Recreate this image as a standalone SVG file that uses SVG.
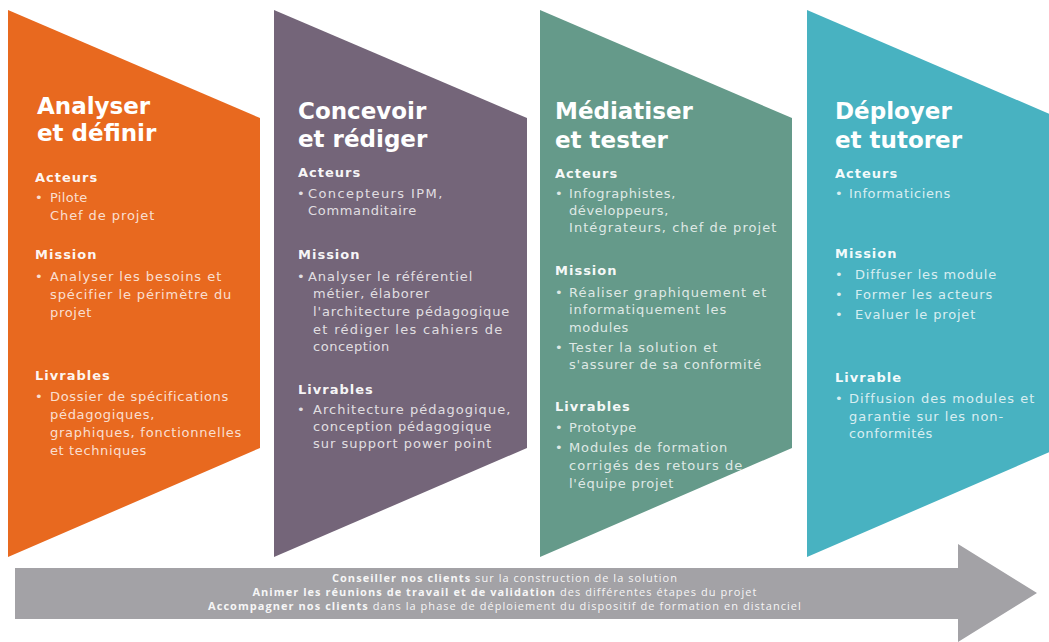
<svg xmlns="http://www.w3.org/2000/svg" width="1049" height="642" viewBox="0 0 1049 642">
<style>
.t{font-family:"DejaVu Sans",Verdana,sans-serif;font-weight:bold;font-size:23px;fill:#fff}
.h{font-family:"DejaVu Sans",Verdana,sans-serif;font-weight:bold;font-size:13px;letter-spacing:1px;fill:#fff;fill-opacity:.95}
.b{font-family:"DejaVu Sans",Verdana,sans-serif;font-size:13px;letter-spacing:.7px;fill:#fff;fill-opacity:.8}
.a{font-family:"Open Sans","Liberation Sans",sans-serif;font-size:11px;letter-spacing:1.05px;fill:#fff;fill-opacity:.92;text-anchor:middle}
.a tspan.k{font-weight:bold}
</style>
<rect width="1049" height="642" fill="#fff"/>

<g id="step1">
<polygon points="8,10 260,118 260,448 8,557" fill="#E8691F"/>
<text class="t" x="37" y="114">Analyser</text>
<text class="t" x="37" y="141">et définir</text>
<text class="h" x="35" y="182">Acteurs</text>
<text class="b" x="35" y="202">•</text>
<text class="b" x="50" y="202" textLength="38" lengthAdjust="spacing">Pilote</text>
<text class="b" x="50" y="220" textLength="105" lengthAdjust="spacing">Chef de projet</text>
<text class="h" x="35" y="259">Mission</text>
<text class="b" x="35" y="281">•</text>
<text class="b" x="50" y="281" textLength="172" lengthAdjust="spacing">Analyser les besoins et</text>
<text class="b" x="50" y="299" textLength="182" lengthAdjust="spacing">spécifier le périmètre du</text>
<text class="b" x="50" y="317">projet</text>
<text class="h" x="35" y="380">Livrables</text>
<text class="b" x="35" y="401">•</text>
<text class="b" x="50" y="401" textLength="179" lengthAdjust="spacing">Dossier de spécifications</text>
<text class="b" x="50" y="419" textLength="105" lengthAdjust="spacing">pédagogiques,</text>
<text class="b" x="50" y="437" textLength="192" lengthAdjust="spacing">graphiques, fonctionnelles</text>
<text class="b" x="50" y="455" textLength="97" lengthAdjust="spacing">et techniques</text>
</g>

<g id="step2">
<polygon points="274,10 527,118 527,448 274,557" fill="#746579"/>
<text class="t" x="298" y="119">Concevoir</text>
<text class="t" x="298" y="147">et rédiger</text>
<text class="h" x="298" y="177">Acteurs</text>
<text class="b" x="297" y="198">•</text>
<text class="b" x="308" y="198" textLength="135" lengthAdjust="spacing">Concepteurs IPM,</text>
<text class="b" x="308" y="215" textLength="109" lengthAdjust="spacing">Commanditaire</text>
<text class="h" x="298" y="259">Mission</text>
<text class="b" x="297" y="281">•</text>
<text class="b" x="308" y="281" textLength="165" lengthAdjust="spacing">Analyser le référentiel</text>
<text class="b" x="313" y="298" textLength="117" lengthAdjust="spacing">métier, élaborer</text>
<text class="b" x="313" y="316" textLength="197" lengthAdjust="spacing">l'architecture pédagogique</text>
<text class="b" x="313" y="334" textLength="190" lengthAdjust="spacing">et rédiger les cahiers de</text>
<text class="b" x="313" y="351" textLength="77" lengthAdjust="spacing">conception</text>
<text class="h" x="298" y="394">Livrables</text>
<text class="b" x="297" y="414">•</text>
<text class="b" x="313" y="414" textLength="198" lengthAdjust="spacing">Architecture pédagogique,</text>
<text class="b" x="313" y="431" textLength="179" lengthAdjust="spacing">conception pédagogique</text>
<text class="b" x="313" y="448" textLength="179" lengthAdjust="spacing">sur support power point</text>
</g>

<g id="step3">
<polygon points="540,10 792,118 792,448 540,557" fill="#659A8A"/>
<text class="t" x="555" y="119">Médiatiser</text>
<text class="t" x="555" y="148">et tester</text>
<text class="h" x="555" y="178">Acteurs</text>
<text class="b" x="555" y="198">•</text>
<text class="b" x="569" y="198" textLength="107" lengthAdjust="spacing">Infographistes,</text>
<text class="b" x="569" y="215" textLength="100" lengthAdjust="spacing">développeurs,</text>
<text class="b" x="569" y="232" textLength="208" lengthAdjust="spacing">Intégrateurs,  chef de projet</text>
<text class="h" x="555" y="275">Mission</text>
<text class="b" x="555" y="297">•</text>
<text class="b" x="569" y="297" textLength="198" lengthAdjust="spacing">Réaliser graphiquement et</text>
<text class="b" x="569" y="314" textLength="158" lengthAdjust="spacing">informatiquement les</text>
<text class="b" x="569" y="332" textLength="60" lengthAdjust="spacing">modules</text>
<text class="b" x="555" y="352">•</text>
<text class="b" x="569" y="352" textLength="149" lengthAdjust="spacing">Tester la solution et</text>
<text class="b" x="569" y="369" textLength="193" lengthAdjust="spacing">s'assurer de sa conformité</text>
<text class="h" x="555" y="411">Livrables</text>
<text class="b" x="555" y="432">•</text>
<text class="b" x="569" y="432" textLength="68" lengthAdjust="spacing">Prototype</text>
<text class="b" x="555" y="452">•</text>
<text class="b" x="569" y="452" textLength="159" lengthAdjust="spacing">Modules de formation</text>
<text class="b" x="569" y="470" textLength="174" lengthAdjust="spacing">corrigés des retours de</text>
<text class="b" x="569" y="488" textLength="105" lengthAdjust="spacing">l'équipe projet</text>
</g>

<g id="step4">
<polygon points="807,10 1059,118 1059,448 807,557" fill="#48B2C1"/>
<text class="t" x="835" y="119">Déployer</text>
<text class="t" x="835" y="148">et tutorer</text>
<text class="h" x="835" y="178">Acteurs</text>
<text class="b" x="835" y="198">•</text>
<text class="b" x="849" y="198" textLength="102" lengthAdjust="spacing">Informaticiens</text>
<text class="h" x="835" y="258">Mission</text>
<text class="b" x="835" y="279">•</text>
<text class="b" x="855" y="279" textLength="142" lengthAdjust="spacing">Diffuser les module</text>
<text class="b" x="835" y="299">•</text>
<text class="b" x="855" y="299" textLength="138" lengthAdjust="spacing">Former les acteurs</text>
<text class="b" x="835" y="319">•</text>
<text class="b" x="855" y="319" textLength="121" lengthAdjust="spacing">Evaluer le projet</text>
<text class="h" x="835" y="382">Livrable</text>
<text class="b" x="835" y="403">•</text>
<text class="b" x="849" y="403" textLength="186" lengthAdjust="spacing">Diffusion des modules et</text>
<text class="b" x="849" y="421" textLength="155" lengthAdjust="spacing">garantie sur les non-</text>
<text class="b" x="849" y="438" textLength="84" lengthAdjust="spacing">conformités</text>
</g>

<g id="timeline">
<polygon points="15,568 958,568 958,544 1037,593 958,642 958,619 15,619" fill="#A3A2A6"/>
<text class="a" x="505" y="582"><tspan class="k">Conseiller nos clients</tspan> sur la construction de la solution</text>
<text class="a" x="505" y="596"><tspan class="k">Animer les réunions de travail et de validation</tspan> des différentes étapes du projet</text>
<text class="a" x="505" y="610"><tspan class="k">Accompagner nos clients</tspan> dans la phase de déploiement du dispositif de formation en distanciel</text>
</g>
</svg>
